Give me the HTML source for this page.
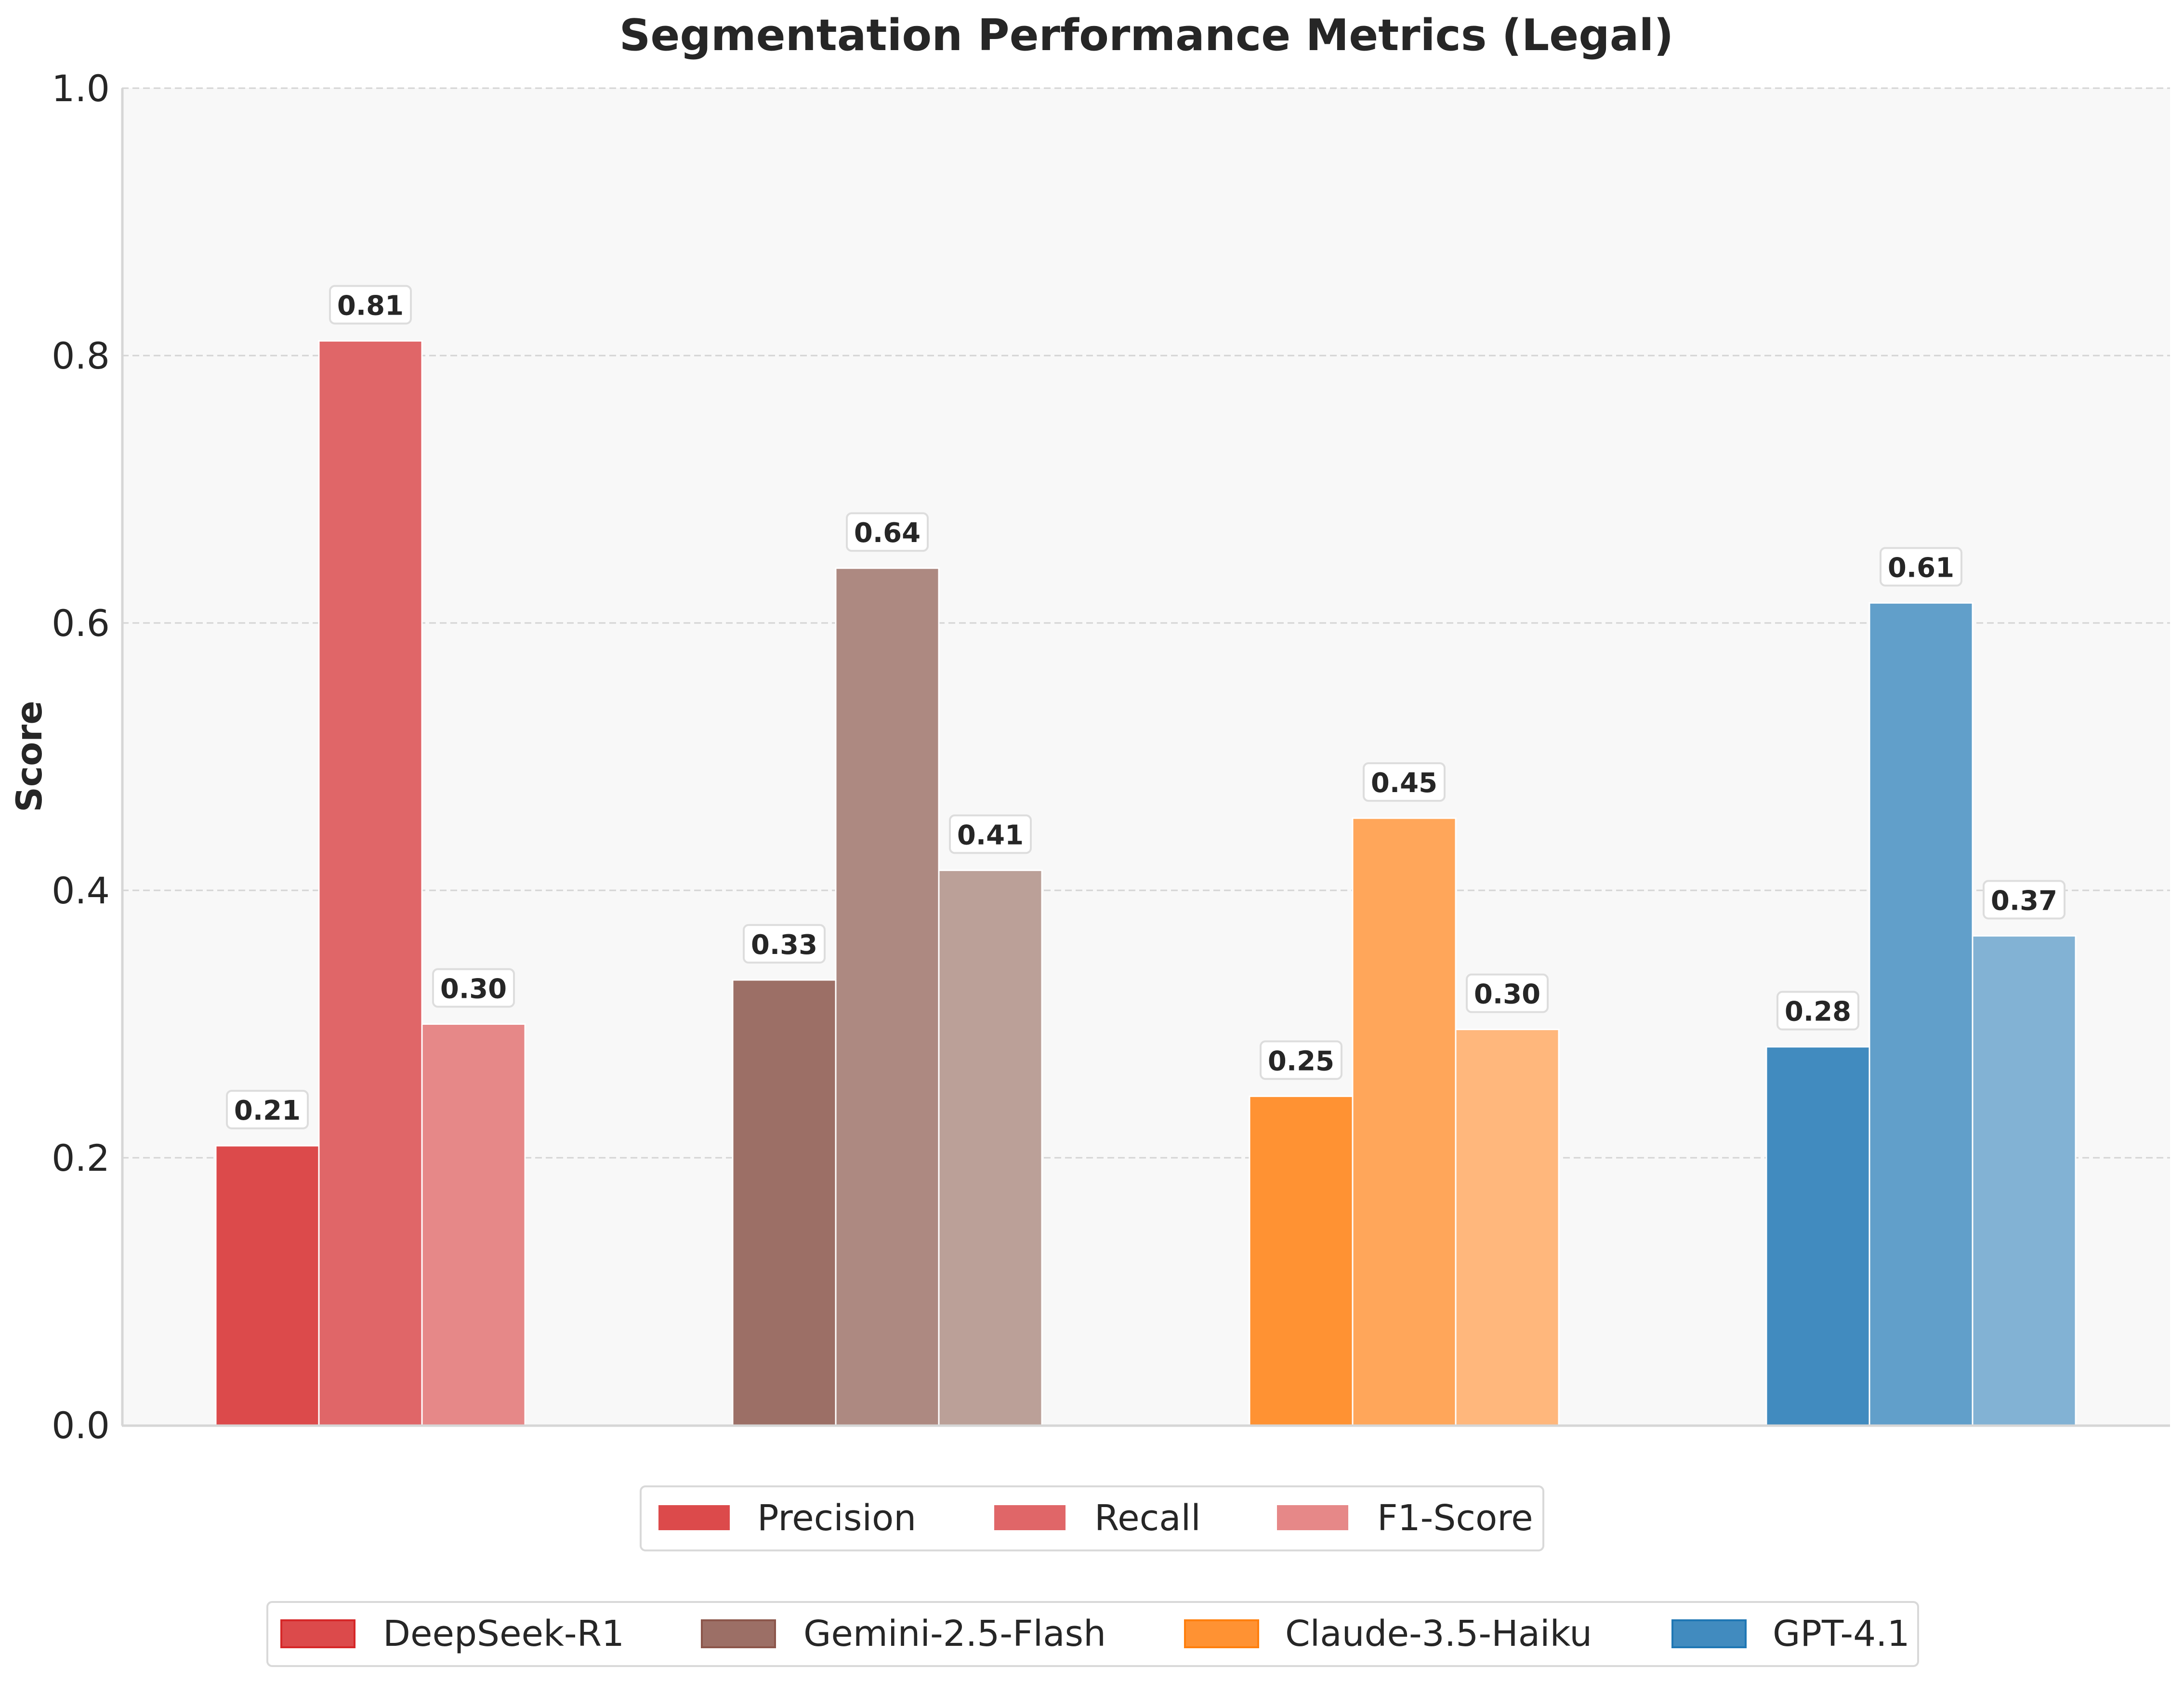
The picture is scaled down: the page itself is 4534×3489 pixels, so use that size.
<!DOCTYPE html>
<html><head><meta charset="utf-8"><style>
html,body{margin:0;padding:0;background:#fff}
svg{display:block}
text{font-family:"DejaVu Sans","Liberation Sans",sans-serif;fill:#262626}
</style></head><body>
<svg id="chart" width="4534" height="3489" viewBox="0 0 4534 3489" xmlns="http://www.w3.org/2000/svg">
<rect x="0" y="0" width="4534" height="3489" fill="#fff"/>
<text x="2380" y="104" font-size="90" font-weight="bold" text-anchor="middle">Segmentation Performance Metrics (Legal)</text>
<rect x="253" y="183" width="4252" height="2775" fill="#f8f8f8"/>
<g id="grid"></g>
<g id="bars"></g>
<g id="labels"></g>
<line x1="254" y1="183" x2="254" y2="2959" stroke="#d6d6d6" stroke-width="5"/>
<line x1="253" y1="2959" x2="4505" y2="2959" stroke="#d6d6d6" stroke-width="5"/>
<text transform="translate(86,1570) rotate(-90)" font-size="73" font-weight="bold" text-anchor="middle">Score</text>
<g>
<rect x="1330" y="3085" width="1874" height="133" rx="10" fill="#fff" stroke="#d9d9d9" stroke-width="4"/>
<rect x="1367" y="3124" width="148" height="52" fill="#DC4A4B"/><text x="1572" y="3176" font-size="74">Precision</text>
<rect x="2064" y="3124" width="148" height="52" fill="#E06668"/><text x="2272" y="3176" font-size="74">Recall</text>
<rect x="2651" y="3124" width="148" height="52" fill="#E68888"/><text x="2859" y="3176" font-size="74">F1-Score</text>
</g>
<g>
<rect x="555" y="3325" width="3427" height="133" rx="10" fill="#fff" stroke="#d9d9d9" stroke-width="4"/>
<rect x="584" y="3363" width="152" height="56" fill="#DC4A4B" stroke="#d62728" stroke-width="4"/><text x="795" y="3416" font-size="74">DeepSeek-R1</text>
<rect x="1457" y="3363" width="152" height="56" fill="#9C6F66" stroke="#8c564b" stroke-width="4"/><text x="1668" y="3416" font-size="74">Gemini-2.5-Flash</text>
<rect x="2460" y="3363" width="152" height="56" fill="#FF9233" stroke="#ff7f0e" stroke-width="4"/><text x="2668" y="3416" font-size="74">Claude-3.5-Haiku</text>
<rect x="3472" y="3363" width="152" height="56" fill="#418BBF" stroke="#1f77b4" stroke-width="4"/><text x="3680" y="3416" font-size="74">GPT-4.1</text>
</g>
</svg>
<script>
const models = ["DeepSeek-R1","Gemini-2.5-Flash","Claude-3.5-Haiku","GPT-4.1"];
const metrics = ["Precision","Recall","F1-Score"];
const precision = [0.209, 0.333, 0.246, 0.283];
const recall = [0.811, 0.641, 0.454, 0.615];
const f1 = [0.300, 0.415, 0.296, 0.366];
const yTicks = [0.0, 0.2, 0.4, 0.6, 0.8, 1.0];
const palette = [["#DC4A4B","#E06668","#E68888"],["#9C6F66","#AD8981","#BBA098"],["#FF9233","#FFA65A","#FFB77C"],["#418BBF","#619FCA","#82B2D4"]];
const NS="http://www.w3.org/2000/svg";
const y0=2958, yTop=183, xL=253;
function yScale(v){return y0-(y0-yTop)*v;}
function xCenter(i){return 769+i*1073;}
const barW=214;
function mk(tag,attrs,parent){const e=document.createElementNS(NS,tag);for(const k in attrs)e.setAttribute(k,attrs[k]);parent.appendChild(e);return e;}
const grid=document.getElementById('grid'), bars=document.getElementById('bars'), labels=document.getElementById('labels'), svg=document.getElementById('chart');
yTicks.forEach(t=>{
  const y=yScale(t);
  if(t>0){const l=mk('line',{x1:xL,y1:y,x2:4505,y2:y,stroke:'#d4d4d4','stroke-width':3,'stroke-dasharray':'14,8'},grid);
  
  }
  const tl=mk('text',{x:228,y:y+27,'font-size':76,'text-anchor':'end'},svg);
  tl.textContent=t.toFixed(1);
  
  
});
const series=[precision,recall,f1];
models.forEach((m,i)=>{
  series.forEach((s,j)=>{
    const v=s[i];
    const x=xCenter(i)+(j-1)*barW-barW/2;
    const r=mk('rect',{x:x,y:yScale(v),width:barW,height:y0-yScale(v),fill:palette[i][j],stroke:'#ffffff','stroke-width':3},bars);
    
    
    const cx=xCenter(i)+(j-1)*barW, ty=yScale(v)-72;
    const b=mk('rect',{x:cx-84,y:ty-42,width:168,height:78,rx:10,fill:'#fff',stroke:'#dddddd','stroke-width':4},labels);
    
    
    const t=mk('text',{x:cx,y:ty+18,'font-size':56,'font-weight':'bold','text-anchor':'middle'},labels);
    t.textContent=v.toFixed(2);
    
    
  });
});
</script>
</body></html>
